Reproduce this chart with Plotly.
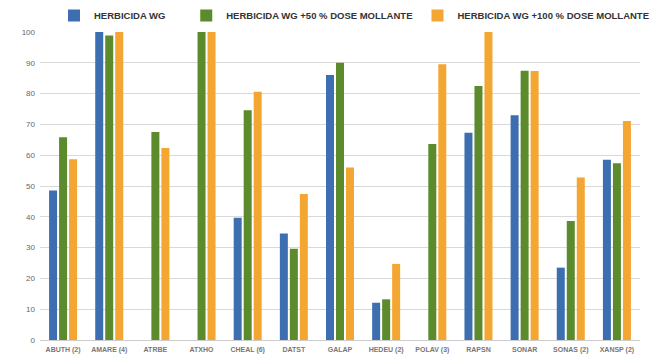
import plotly.graph_objects as go

categories = ["ABUTH (2)", "AMARE (4)", "ATRBE", "ATXHO", "CHEAL (6)", "DATST",
              "GALAP", "HEDEU (2)", "POLAV (3)", "RAPSN", "SONAR", "SONAS (2)", "XANSP (2)"]
herbicida_wg = [48.5, 100, None, None, 39.7, 34.6, 86, 12.1, None, 67.3, 73, 23.5, 58.5]
herbicida_wg_50 = [65.8, 98.9, 67.5, 100, 74.6, 29.6, 90, 13.2, 63.6, 82.5, 87.4, 38.6, 57.4]
herbicida_wg_100 = [58.7, 100, 62.3, 100, 80.6, 47.4, 56, 24.7, 89.5, 100, 87.3, 52.8, 71.1]
series_names = ["HERBICIDA WG", "HERBICIDA WG +50 % DOSE MOLLANTE", "HERBICIDA WG +100 % DOSE MOLLANTE"]
y_ticks = [0, 10, 20, 30, 40, 50, 60, 70, 80, 90, 100]

colors = ["#3d6fb0", "#5b8b2d", "#f4a632"]
legend_pad = ["\u00a0" * 6, "", ""]

fig = go.Figure()
for name, vals, col, pad in zip(series_names, [herbicida_wg, herbicida_wg_50, herbicida_wg_100], colors, legend_pad):
    fig.add_trace(go.Bar(x=categories, y=vals, name=name + pad, marker=dict(color=col, line=dict(width=0))))

fig.update_layout(
    width=650, height=353,
    margin=dict(l=32, r=18, t=24, b=21, autoexpand=False),
    paper_bgcolor="white", plot_bgcolor="white",
    barmode="group", bargap=0.35, bargroupgap=0.2,
    font=dict(family="Liberation Sans", color="#666666"),
    legend=dict(orientation="h", x=0.0233, xanchor="left", y=1.0 + 2 / 308, yanchor="bottom",
                font=dict(size=9.5, color="#333333", family="Liberation Sans", weight="bold"),
                itemwidth=30, traceorder="normal"),
    xaxis=dict(showgrid=False, tickfont=dict(size=7, color="#777777", weight="bold"), ticks="",
               showline=False, zeroline=False, ticklabelstandoff=4),
    yaxis=dict(range=[0, 100], tickvals=y_ticks, gridcolor="#d9d9d9", gridwidth=1,
               tickfont=dict(size=8, color="#666666"), ticks="", zeroline=True,
               zerolinecolor="#cccccc", zerolinewidth=1, showline=False, ticklabelstandoff=4),
)

fig.write_html("out.html")
